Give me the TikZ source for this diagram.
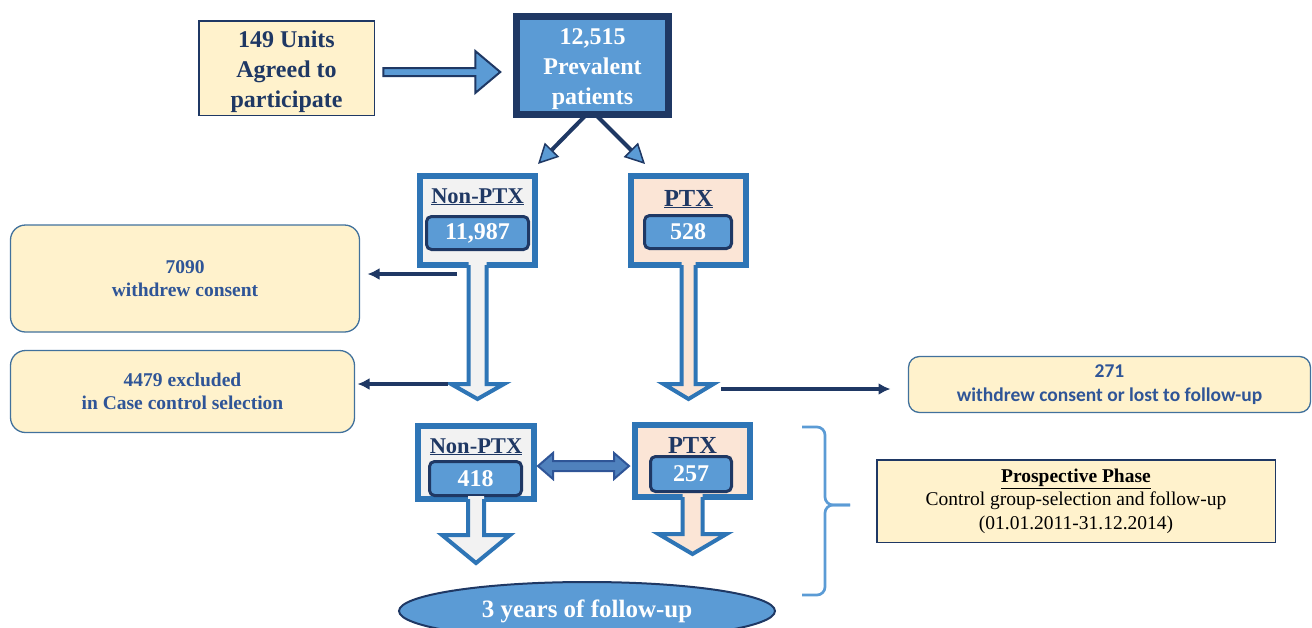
\documentclass[tikz,border=0pt]{standalone}
\usepackage{fontspec}
\setmainfont{Liberation Serif}
\newfontfamily\calib{Carlito}
\usepackage{tikz}
\usetikzlibrary{shapes.geometric,arrows.meta,calc}
\definecolor{navy}{HTML}{1F3864}
\definecolor{midblue}{HTML}{5B9BD5}
\definecolor{boxblue}{HTML}{2E75B6}
\definecolor{cream}{HTML}{FFF2CC}
\definecolor{greyf}{HTML}{F2F2F2}
\definecolor{peach}{HTML}{FBE5D6}
\definecolor{steel}{HTML}{41719C}
\definecolor{stext}{HTML}{2F5597}
\definecolor{dblue}{HTML}{2F5597}
\definecolor{dfill}{HTML}{4F81BD}

\begin{document}
\begin{tikzpicture}[x=1pt,y=-1pt,
  every node/.style={inner sep=0pt,outer sep=0pt,align=center},
  big/.style={font=\fontsize{24}{30}\selectfont\bfseries},
  grp/.style={draw=boxblue,line width=6pt,minimum width=115pt},
  ttl/.style={font=\fontsize{22.5}{26}\selectfont\bfseries,text=navy,anchor=base},
  ttlb/.style={font=\fontsize{24.5}{28}\selectfont\bfseries,text=navy,anchor=base},
  num/.style={draw=navy,fill=midblue,line width=3pt,rounded corners=5pt,minimum height=33pt,text=white,font=\fontsize{24}{28}\selectfont\bfseries},
  side/.style={draw=steel,fill=cream,line width=1.3pt,rounded corners=15pt,text=stext,font=\fontsize{19.5}{23.5}\selectfont\bfseries},
  barr/.style={draw=boxblue,line width=4pt},
  sarr/.style={draw=navy,line width=3.5pt,-{Latex[length=12pt,width=12pt]}},
  darr/.style={draw=navy,line width=4pt,-{Triangle[length=20pt,width=20pt,fill=midblue,line width=1.5pt]}},
  brc/.style={draw=midblue,line width=2.7pt,rounded corners=8pt}
]
  \useasboundingbox (0,0) rectangle (1312,627);
  \clip (0,0) rectangle (1312,627);

  \node[draw=navy,fill=cream,line width=1.5pt,minimum width=175.5pt,minimum height=94.5pt] (units) at (286.5,68) {};
  \node[big,text=navy] (unitst) at (286.5,72) {149 Units\\Agreed to\\participate};
  \node[draw=navy,fill=midblue,line width=7pt,minimum width=152pt,minimum height=98pt] (prev) at (592.5,65.5) {};
  \node[big,text=white] (prevt) at (592.5,69.5) {12,515\\Prevalent\\patients};
  \filldraw[draw=navy,fill=midblue,line width=2pt] ($(units.east)+(9,0)$) -- ++(92,0) -- ++(0,-17) -- ++(25,21) -- ++(-25,21) -- ++(0,-17) -- ++(-92,0) -- cycle;

  \node[grp,fill=greyf,minimum height=89pt] (np1) at (477.5,220.5) {};
  \node[ttl] (np1t) at (477.5,203) {\underline{Non-PTX}};
  \node[num,minimum width=102pt] (np1n) at (477.5,233) {11,987};
  \node[grp,fill=peach,minimum height=89pt] (px1) at (688.5,220.5) {};
  \node[ttlb] (px1t) at (688.5,206) {\underline{PTX}};
  \node[num,minimum width=87pt] (px1n) at (688,232) {528};
  \draw[darr] ($(prev.south)+(-7.5,1.5)$) -- ($(np1.north)+(60.5,-12)$);
  \draw[darr] ($(prev.south)+(4.5,1.5)$) -- ($(px1.north)+(-43.5,-12)$);

  \fill[greyf] ($(np1.south)+(-9,-3)$) -- ++(0,122) -- ++(-17.5,0) -- ++(26.5,15) -- ++(26.5,-15) -- ++(-17.5,0) -- ++(0,-122) -- cycle;
  \draw[barr] ($(np1.south)+(-9,0)$) -- ++(0,119) -- ++(-17.5,0) -- ++(26.5,15) -- ++(26.5,-15) -- ++(-17.5,0) -- ++(0,-119);
  \fill[peach] ($(px1.south)+(-7,-3)$) -- ++(0,122) -- ++(-18,0) -- ++(25,15) -- ++(25,-15) -- ++(-18,0) -- ++(0,-122) -- cycle;
  \draw[barr] ($(px1.south)+(-7,0)$) -- ++(0,119) -- ++(-18,0) -- ++(25,15) -- ++(25,-15) -- ++(-18,0) -- ++(0,-119);

  \node[side,minimum width=349pt,minimum height=107pt] (w1) at (185,278.5) {7090\\withdrew consent};
  \node[side,minimum width=344pt,minimum height=82pt] (w2) at (182.5,391.5) {4479 excluded\\in Case control selection};
  \node[side,rounded corners=11pt,minimum width=402pt,minimum height=56pt,font=\calib\fontsize{19.5}{23.5}\selectfont\bfseries] (r271) at (1109.5,384.5) {271\\withdrew consent or lost to follow-up};
  \draw[sarr] ($(np1.south)+(-20.5,9)$) -- ($(w1.east)+(8,-4.5)$);
  \draw[sarr] ($(np1.south)+(-29.5,119)$) -- ($(w2.east)+(3,-7.5)$);
  \draw[sarr] ($(px1.south)+(32.5,124)$) -- ($(r271.west)+(-18,4.5)$);

  \node[grp,fill=greyf,minimum width=116pt,minimum height=73pt] (np2) at (476,462.5) {};
  \node[ttl] (np2t) at (476,453) {\underline{Non-PTX}};
  \node[num,minimum width=92pt,minimum height=34pt] (np2n) at (475.5,478.5) {418};
  \node[grp,fill=peach,minimum height=72pt] (px2) at (692.5,461) {};
  \node[ttlb] (px2t) at (692.5,453) {PTX};
  \node[num,minimum width=81pt,minimum height=35pt] (px2n) at (691,474) {257};
  \filldraw[draw=dblue,fill=dfill,line width=2pt] ($(np2.east)+(4,3.5)$) -- ++(15,-13) -- ++(0,8) -- ++(61,0) -- ++(0,-8) -- ++(15,13) -- ++(-15,13) -- ++(0,-8) -- ++(-61,0) -- ++(0,8) -- cycle;

  \fill[greyf] ($(np2.south)+(-8,-3)$) -- ++(0,39) -- ++(-26,0) -- ++(34,28) -- ++(34,-28) -- ++(-26,0) -- ++(0,-39) -- cycle;
  \draw[barr] ($(np2.south)+(-8,0)$) -- ++(0,36) -- ++(-26,0) -- ++(34,28) -- ++(34,-28) -- ++(-26,0) -- ++(0,-36);
  \fill[peach] ($(px2.south)+(-10,-3)$) -- ++(0,40) -- ++(-24,0) -- ++(34,20) -- ++(34,-20) -- ++(-24,0) -- ++(0,-40) -- cycle;
  \draw[barr] ($(px2.south)+(-10,0)$) -- ++(0,37) -- ++(-24,0) -- ++(34,20) -- ++(34,-20) -- ++(-24,0) -- ++(0,-37);

  \node[ellipse,draw=navy,fill=midblue,line width=2pt,minimum width=376pt,minimum height=58pt,text=white,font=\fontsize{25}{30}\selectfont\bfseries] (fu) at (587,611) {3 years of follow-up};

  \draw[brc] (802,427) -- (825,427) -- (825,505) -- (850,505);
  \draw[brc] (850,505) -- (825,505) -- (825,595) -- (802,595);
  \node[draw=navy,fill=cream,line width=1.5pt,minimum width=398.5pt,minimum height=82.5pt,font=\fontsize{19.5}{23.5}\selectfont] (pros) at (1076,501) {\underline{\textbf{Prospective Phase}}\\Control group-selection and follow-up\\(01.01.2011-31.12.2014)};
\end{tikzpicture}
\end{document}
